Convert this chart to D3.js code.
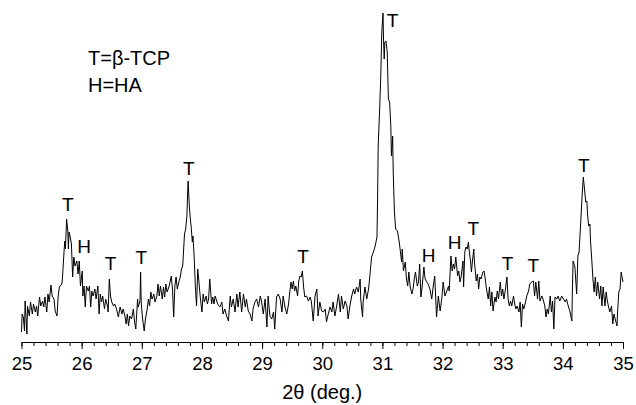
<!DOCTYPE html>
<html>
<head>
<meta charset="utf-8">
<script src="https://cdn.jsdelivr.net/npm/d3@7"></script>
<style>
  body { margin: 0; background: #fff; }
  svg { display: block; font-family: "Liberation Sans", Arial, sans-serif; }
  .axis path, .axis line { stroke: #000; stroke-width: 1; }
  .axis text { font-size: 18.5px; fill: #000; }
</style>
</head>
<body>
<svg id="chart"></svg>
<script>
// 2theta angles (deg)
const twoTheta = [
  25.00,25.01,25.03,25.05,25.06,25.09,25.10,25.13,25.15,25.18,25.20,25.23,25.25,25.27,25.30,25.32,25.35,25.37,25.39,25.42,
  25.44,25.46,25.49,25.51,25.54,25.56,25.59,25.61,25.63,25.67,25.68,25.71,25.72,25.73,25.75,25.77,25.78,25.79,25.81,25.83,
  25.85,25.87,25.89,25.92,25.94,25.96,25.98,26.01,26.02,26.04,26.06,26.08,26.11,26.13,26.15,26.17,26.19,26.22,26.24,26.27,
  26.29,26.31,26.33,26.35,26.38,26.40,26.43,26.44,26.46,26.48,26.50,26.53,26.55,26.58,26.61,26.64,26.67,26.69,26.72,26.74,
  26.76,26.78,26.80,26.83,26.86,26.88,26.90,26.93,26.94,26.97,26.98,26.99,27.01,27.02,27.04,27.06,27.09,27.11,27.13,27.15,
  27.17,27.20,27.22,27.25,27.27,27.29,27.31,27.34,27.36,27.38,27.40,27.42,27.45,27.47,27.49,27.51,27.53,27.55,27.57,27.59,
  27.62,27.64,27.66,27.68,27.71,27.73,27.75,27.76,27.77,27.79,27.81,27.82,27.84,27.85,27.87,27.89,27.91,27.93,27.95,27.97,
  28.00,28.02,28.04,28.07,28.09,28.11,28.13,28.16,28.18,28.20,28.22,28.25,28.27,28.30,28.33,28.35,28.38,28.41,28.44,28.47,
  28.49,28.52,28.55,28.58,28.60,28.63,28.66,28.69,28.72,28.74,28.77,28.80,28.83,28.85,28.88,28.91,28.94,28.97,28.99,29.02,
  29.05,29.08,29.10,29.13,29.16,29.19,29.21,29.24,29.27,29.30,29.33,29.35,29.38,29.41,29.44,29.46,29.48,29.50,29.52,29.54,
  29.56,29.59,29.61,29.63,29.65,29.67,29.69,29.71,29.74,29.77,29.80,29.82,29.85,29.88,29.91,29.93,29.96,29.99,30.02,30.05,
  30.07,30.10,30.13,30.16,30.18,30.21,30.24,30.27,30.30,30.32,30.35,30.38,30.41,30.43,30.46,30.49,30.52,30.54,30.57,30.60,
  30.63,30.64,30.67,30.68,30.71,30.74,30.77,30.79,30.82,30.85,30.88,30.91,30.92,30.93,30.95,30.97,30.98,30.99,31.01,31.02,
  31.03,31.04,31.06,31.08,31.09,31.10,31.12,31.14,31.15,31.17,31.18,31.20,31.22,31.25,31.28,31.30,31.32,31.33,31.35,31.38,
  31.40,31.42,31.44,31.46,31.49,31.51,31.53,31.55,31.58,31.60,31.62,31.64,31.66,31.69,31.71,31.74,31.76,31.79,31.82,31.85,
  31.87,31.90,31.93,31.96,31.99,32.01,32.04,32.07,32.10,32.11,32.14,32.16,32.18,32.20,32.22,32.25,32.27,32.29,32.31,32.34,
  32.35,32.37,32.39,32.41,32.43,32.44,32.47,32.48,32.50,32.52,32.53,32.56,32.58,32.60,32.62,32.64,32.67,32.69,32.71,32.73,
  32.76,32.78,32.80,32.82,32.84,32.87,32.89,32.91,32.93,32.96,32.98,33.00,33.02,33.04,33.07,33.09,33.11,33.13,33.15,33.18,
  33.20,33.22,33.24,33.27,33.29,33.31,33.33,33.35,33.38,33.40,33.43,33.45,33.48,33.51,33.53,33.55,33.58,33.60,33.62,33.65,
  33.67,33.70,33.72,33.74,33.76,33.79,33.81,33.83,33.85,33.87,33.90,33.92,33.95,33.98,34.01,34.04,34.06,34.09,34.12,34.15,
  34.16,34.17,34.20,34.23,34.25,34.27,34.30,34.32,34.34,34.36,34.38,34.40,34.41,34.43,34.45,34.46,34.48,34.50,34.52,34.54,
  34.56,34.58,34.61,34.63,34.65,34.67,34.70,34.72,34.74,34.76,34.78,34.81,34.83,34.85,34.87,34.90,34.91,34.93,34.95,34.97,
  35.00
]

// intensity (a.u.) at each angle above
const intensity = [
  9,27,24,10,40,7,35,25,39,27,37,29,35,25,44,35,40,34,44,29,
  47,39,56,45,42,30,25,45,54,57,62,92,100,92,122,110,92,109,104,97,
  64,84,75,80,67,80,55,70,45,55,34,55,50,55,34,50,45,52,42,55,
  27,47,39,45,32,42,35,29,62,45,39,35,37,32,24,34,27,32,25,17,
  27,15,25,22,32,19,12,42,34,40,69,39,24,19,10,22,32,42,35,49,
  42,47,39,45,57,45,55,42,54,44,57,49,54,59,65,52,24,55,64,52,
  60,64,72,75,107,112,125,145,160,135,120,115,99,105,85,55,35,72,59,45,
  29,47,39,45,37,42,62,37,44,37,45,39,36,34,39,27,32,25,20,45,
  34,42,29,47,34,49,29,47,34,42,30,27,20,32,39,42,34,45,40,27,
  42,14,45,25,22,29,12,44,47,42,29,45,34,27,37,49,59,52,60,50,
  55,45,60,65,64,70,54,44,45,40,44,39,20,45,52,25,39,30,29,32,
  19,27,34,29,39,25,35,47,29,45,32,40,35,22,35,45,52,47,54,49,
  62,42,24,39,54,42,52,64,84,89,95,104,142,195,225,259,282,309,328,299,
  282,299,300,289,265,242,239,215,185,205,169,129,112,110,99,89,79,92,70,79,
  62,55,69,55,47,52,62,69,55,59,77,44,54,74,62,59,57,52,42,57,
  65,24,45,30,44,59,45,50,55,50,85,70,77,72,84,65,70,59,65,80,
  54,89,94,92,99,92,77,69,82,92,79,60,67,52,64,62,69,70,62,52,
  42,54,35,49,30,44,39,50,42,59,45,52,42,49,64,42,35,40,35,45,
  37,32,35,29,39,14,37,32,39,45,50,57,59,60,45,59,42,60,40,45,
  42,35,24,32,27,45,29,40,12,44,42,45,40,45,42,39,42,35,29,20,
  55,80,74,47,85,89,122,145,164,152,139,140,127,115,117,100,82,62,49,64,
  45,59,42,55,35,54,35,49,40,34,29,35,17,27,22,15,29,49,52,69,
  59
]

// major tick labels of the 2theta axis
const tickLabels = [25, 26, 27, 28, 29, 30, 31, 32, 33, 34, 35]

// phase markers: letter, angle, intensity level of the letter's baseline
const markLetters = ['T', 'H', 'T', 'T', 'T', 'T', 'T', 'H', 'H', 'T', 'T', 'T', 'T']
const markAngles  = [25.77, 26.04, 26.48, 26.99, 27.78, 29.68, 31.17, 31.77, 32.20, 32.51, 33.08, 33.51, 34.35]
const markLevels  = [130, 88, 71, 77, 166, 78, 314, 79, 92, 106, 71, 69, 169]

// legend lines
const legendLines = ['T=\u03b2-TCP', 'H=HA']

const width = 636, height = 405
const margin = {top: 12, right: 13, bottom: 63, left: 21.5}
const innerW = width - margin.left - margin.right
const innerH = height - margin.top - margin.bottom

const svg = d3.select('#chart')
    .attr('width', width)
    .attr('height', height)

const graph = svg.append('g')
    .attr('transform', `translate(${margin.left}, ${margin.top})`)

// x: 2theta from 25 to 35
const xScale = d3.scaleLinear()
    .domain([25, 35])
    .range([0, innerW])

// y: intensity, zero sits just on the axis line
const yScale = d3.scaleLinear()
    .domain([0, 330])
    .range([innerH - 1, innerH - 331])

// minor ticks every 0.2 deg
const minorAxis = d3.axisBottom(xScale)
    .tickValues(d3.range(25, 35.001, 0.2))
    .tickSize(4)
    .tickSizeOuter(0)
    .tickFormat('')

graph.append('g')
    .attr('class', 'axis')
    .attr('transform', `translate(0, ${innerH})`)
    .call(minorAxis)

// major ticks with labels
const xAxis = d3.axisBottom(xScale)
    .tickValues(tickLabels)
    .tickSize(7)
    .tickSizeOuter(0)
    .tickPadding(8)
    .tickFormat(d3.format('d'))

graph.append('g')
    .attr('class', 'axis')
    .attr('transform', `translate(0, ${innerH})`)
    .call(xAxis)

// axis title
graph.append('text')
    .attr('x', xScale(30))
    .attr('y', innerH + 57)
    .attr('text-anchor', 'middle')
    .style('font-size', '20px')
    .text('2\u03b8 (deg.)')

// the diffraction pattern
const line = d3.line()
    .x((d, i) => xScale(twoTheta[i]))
    .y(d => yScale(d))

graph.append('path')
    .datum(intensity)
    .attr('fill', 'none')
    .attr('stroke', '#000')
    .attr('stroke-width', 1)
    .attr('stroke-linejoin', 'round')
    .attr('d', line)

// peak markers
graph.selectAll('.mark')
    .data(markLetters)
    .enter().append('text')
    .attr('class', 'mark')
    .attr('x', (d, i) => xScale(markAngles[i]))
    .attr('y', (d, i) => yScale(markLevels[i]))
    .attr('text-anchor', 'middle')
    .style('font-size', '19px')
    .text(d => d)

// legend
svg.selectAll('.legend')
    .data(legendLines)
    .enter().append('text')
    .attr('class', 'legend')
    .attr('x', 88)
    .attr('y', (d, i) => 65 + i * 27)
    .style('font-size', '20px')
    .text(d => d)
</script>
</body>
</html>
